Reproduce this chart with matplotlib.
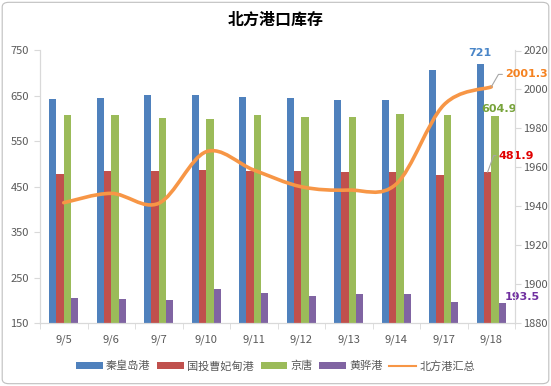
import numpy as np
import matplotlib
matplotlib.use("Agg")
import matplotlib.pyplot as plt
from matplotlib.path import Path
from matplotlib.patches import PathPatch, FancyBboxPatch

plt.rcParams['font.family'] = ['Noto Sans CJK SC', 'DejaVu Sans']

dates = ['9/5', '9/6', '9/7', '9/10', '9/11', '9/12', '9/13', '9/14', '9/17', '9/18']
qhd = [644, 646, 652, 652, 648, 646, 641, 641, 707, 721]          # 秦皇岛港
cfd = [477, 484, 484, 486, 484, 484, 482, 482, 475, 481.9]        # 国投曹妃甸港
jt = [609, 609, 601, 599, 607, 604, 604, 611, 607, 604.9]         # 京唐
hh = [205, 203, 201, 225, 216, 210, 214, 214, 196, 193.5]         # 黄骅港
total = [1941.8, 1946.6, 1941.5, 1968.0, 1958.6, 1950.0, 1948.3, 1951.4, 1992.0, 2001.3]  # 北方港汇总

names = ['秦皇岛港', '国投曹妃甸港', '京唐', '黄骅港', '北方港汇总']
colors = ['#4F81BD', '#C0504D', '#9BBB59', '#8064A2', '#F79646']
gray = '#D9D9D9'
tick_col = '#595959'


def smooth_path(xs, ys, t=1/6.):
    # Bezier (Catmull-Rom style) like Excel's smoothed line
    pts = np.column_stack([xs, ys]).astype(float)
    verts = [pts[0]]
    codes = [Path.MOVETO]
    n = len(pts)
    for i in range(n - 1):
        p0 = pts[i - 1] if i > 0 else pts[i]
        p1 = pts[i]
        p2 = pts[i + 1]
        p3 = pts[i + 2] if i + 2 < n else pts[i + 1]
        c1 = p1 + (p2 - p0) * t
        c2 = p2 - (p3 - p1) * t
        verts += [c1, c2, p2]
        codes += [Path.CURVE4] * 3
    return Path(verts, codes)


fig = plt.figure(figsize=(5.51, 3.86), dpi=100)
ax = fig.add_axes([40 / 551, 1 - 323 / 386, 475 / 551, 272.5 / 386])
ax2 = ax.twinx()

x = np.arange(len(dates))
w = 0.155
series = [qhd, cfd, jt, hh]
bars = []
for k, vals in enumerate(series):
    b = ax.bar(x + (k - 1.5) * w, vals, w, color=colors[k], label=names[k], zorder=2)
    bars.append(b)

ax.set_ylim(150, 750)
ax.set_yticks(np.arange(150, 751, 100))
ax.set_xlim(-0.5, len(dates) - 0.5)
ax.set_xticks(x)
ax.set_xticklabels(dates)
ax.set_xticks(np.arange(-0.5, len(dates), 1), minor=True)
ax.tick_params(axis='x', which='major', length=0, pad=8, labelsize=8, colors=tick_col)
ax.tick_params(axis='x', which='minor', length=4, color=gray)
ax.tick_params(axis='y', length=4, color=gray, labelsize=8, labelcolor=tick_col, pad=4)

ax2.set_ylim(1880, 2020)
ax2.set_yticks(np.arange(1880, 2021, 20))
ax2.tick_params(axis='y', length=4, color=gray, labelsize=8, labelcolor=tick_col, pad=2)

for a in (ax, ax2):
    a.spines['top'].set_visible(False)
    for s in ['left', 'right', 'bottom']:
        a.spines[s].set_color(gray)

p = smooth_path(x, total)
patch = PathPatch(p, facecolor='none', edgecolor=colors[4], lw=2.6, zorder=3,
                  capstyle='round', transform=ax2.transData)
ax2.add_patch(patch)
line_handle, = ax2.plot([], [], color=colors[4], lw=1.5, label=names[4])

# data labels on the last category
i = len(dates) - 1
lab = dict(fontsize=8, fontweight='bold', family='DejaVu Sans')
ax.annotate(f'{qhd[i]:g}', (x[i] - 1.5 * w, qhd[i]), xytext=(0, 4), textcoords='offset points',
            ha='center', va='bottom', color='#4A86C8', **lab)
ax.annotate(f'{jt[i]:g}', (x[i] + 0.5 * w, jt[i]), xytext=(3, 2), textcoords='offset points',
            ha='center', va='bottom', color='#77A33A', **lab)
ax.annotate(f'{hh[i]:g}', (x[i] + 1.5 * w, hh[i]), xytext=(2, 1), textcoords='offset points',
            ha='left', va='bottom', color='#7030A0', **lab)
ax.annotate(f'{cfd[i]:g}', (x[i] - 0.5 * w, cfd[i]), xytext=(8, 12), textcoords='offset points',
            ha='left', va='center', color='#E00000',
            arrowprops=dict(arrowstyle='-', color='#A6A6A6', lw=0.8, shrinkA=0, shrinkB=0,
                            connectionstyle='angle,angleA=0,angleB=70,rad=0'), **lab)
ax2.annotate(f'{total[i]:g}', (x[i], total[i]), xytext=(10, 9), textcoords='offset points',
             ha='left', va='center', color='#F58220', zorder=5,
             arrowprops=dict(arrowstyle='-', color='#A6A6A6', lw=0.8, shrinkA=0, shrinkB=0,
                             connectionstyle='angle,angleA=0,angleB=60,rad=0'), **lab)

fig.text(0.5, 1 - 20 / 386, '北方港口库存', ha='center', va='center', fontsize=11.5,
         fontweight='bold')

handles = bars + [line_handle]
leg = fig.legend(handles, names, loc='center', bbox_to_anchor=(0.5, 1 - 366 / 386), ncol=5,
                 frameon=False, fontsize=8, handlelength=2.4, handleheight=0.6,
                 columnspacing=0.6, handletextpad=0.3)
for t in leg.get_texts():
    t.set_color(tick_col)

border = FancyBboxPatch((0.004, 0.006), 0.992, 0.988, boxstyle='round,pad=0,rounding_size=0.012',
                        transform=fig.transFigure, facecolor='none', edgecolor='#BFBFBF', lw=0.8)
fig.patches.append(border)

fig.savefig('out.png', dpi=100)
